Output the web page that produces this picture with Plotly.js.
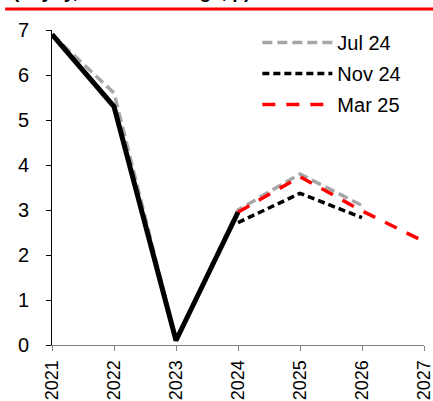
<!DOCTYPE html>
<html><head><meta charset="utf-8">
<script src="https://cdn.plot.ly/plotly-3.0.1.min.js"></script>
<style>html,body{margin:0;padding:0;background:#fff}#c{width:433px;height:401px}</style>
</head><body><div id="c"></div>
<script>
var years = [2021, 2022, 2023, 2024, 2025, 2026, 2027];
var tickLabels = ['2021','2022','2023','2024','2025','2026','2027'];
var actualYears = [2021, 2022, 2023, 2024];
var actual = [6.9, 5.3, 0.1, 2.95];
var jul24Years = [2021, 2022, 2023, 2024, 2025, 2026];
var jul24 = [6.9, 5.6, 0.1, 3.0, 3.8, 3.1];
var nov24Years = [2024, 2025, 2026];
var nov24 = [2.72, 3.37, 2.83];
var mar25Years = [2024, 2025, 2026, 2027];
var mar25 = [2.95, 3.74, 2.98, 2.3];

var traces = [
  {x: jul24Years, y: jul24, name: 'Jul 24', legendgroup: 'a', mode: 'lines', line: {color: '#a6a6a6', width: 3.5, dash: '10px,5px'}},
  {x: nov24Years, y: nov24, name: 'Nov 24', legendgroup: 'b', mode: 'lines', line: {color: '#000000', width: 3.5, dash: '7px,4px'}},
  {x: mar25Years, y: mar25, name: 'Mar 25', legendgroup: 'c', mode: 'lines', line: {color: '#ff0000', width: 3.5, dash: '13px,11px'}},
  {x: actualYears, y: actual, name: 'Actual', mode: 'lines', showlegend: false, line: {color: '#000000', width: 5}}
];

var layout = {
  width: 433, height: 401,
  margin: {l: 52, r: 9, t: 30, b: 56},
  paper_bgcolor: '#fff', plot_bgcolor: '#fff',
  font: {family: 'Arial, Liberation Sans, sans-serif', size: 20, color: '#000'},
  showlegend: true,
  legend: {x: 0.552, y: 1.022, xanchor: 'left', yanchor: 'top', bgcolor: 'rgba(0,0,0,0)',
           font: {size: 20, color: '#000'}, itemwidth: 70, tracegroupgap: 2},
  xaxis: {range: [2021, 2027], tickvals: years, ticktext: tickLabels, tickangle: -90,
          showgrid: false, zeroline: false, showline: true, linecolor: '#808080', linewidth: 1,
          ticks: 'outside', ticklen: 5, tickcolor: '#808080', fixedrange: true,
          ticklabeloverflow: 'allow', ticklabelstandoff: 2, tickfont: {size: 18}},
  yaxis: {range: [0, 7], dtick: 1, showgrid: false, zeroline: false, showline: true,
          linecolor: '#000', linewidth: 1, ticks: 'outside', ticklen: 5, tickcolor: '#000',
          fixedrange: true, ticklabelstandoff: 13, tickfont: {size: 20}},
  shapes: [{type: 'line', xref: 'paper', yref: 'paper', x0: -0.126, x1: 1.03, y0: 1.0667, y1: 1.0667,
            line: {color: '#ff0000', width: 3}}],
  annotations: [{xref: 'paper', yref: 'paper', x: -0.11, y: 1.083, xanchor: 'left', yanchor: 'bottom',
                 text: '<b>(% yoy, annual average, p)</b>', showarrow: false, font: {size: 19, color: '#000'}}]
};
Plotly.newPlot('c', traces, layout, {displayModeBar: false, staticPlot: true});
</script></body></html>
